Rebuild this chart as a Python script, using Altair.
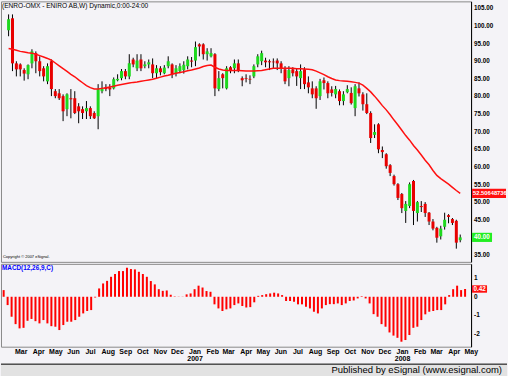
import altair as alt
import pandas as pd

# ---------------- data (weekly bars) ----------------
opens = [
    98.8, 102.2, 89.4, 89.1, 87.5, 86.3, 89.4, 92.3, 90.0, 88.0,
    84.3, 90.0, 81.5, 80.9, 80.1, 76.4, 79.5, 79.5, 77.2, 76.4,
    75.8, 76.7, 75.3, 74.4, 81.5, 82.6, 82.5, 82.3, 84.6, 85.2,
    87.2, 85.7, 90.5, 88.0, 90.5, 88.6, 89.1, 89.1, 86.6, 88.0,
    86.6, 88.6, 89.1, 86.6, 87.2, 87.5, 88.6, 90.2, 90.2, 94.8,
    94.8, 92.0, 91.4, 92.0, 82.1, 86.3, 82.3, 88.3, 88.0, 89.4,
    85.2, 85.2, 85.0, 85.7, 89.1, 90.0, 90.2, 90.0, 89.9, 90.2,
    89.4, 87.7, 85.2, 87.7, 87.2, 85.2, 87.7, 84.0, 82.3, 82.3,
    80.1, 84.6, 83.8, 82.0, 80.6, 81.5, 78.7, 81.2, 81.0, 76.7,
    82.3, 80.6, 77.8, 75.3, 69.1, 72.1, 64.8, 63.6, 60.5, 57.4,
    55.1, 52.3, 47.5, 48.9, 56.0, 46.9, 48.9, 49.5, 47.0, 44.5,
    42.7, 40.3, 43.0, 46.3, 45.2, 44.7, 39.2,
]
highs = [
    103.3, 103.3, 90.0, 89.4, 88.0, 89.1, 93.4, 92.8, 91.4, 88.6,
    89.4, 90.5, 82.1, 82.1, 80.6, 80.9, 82.1, 81.5, 78.1, 77.2,
    78.7, 77.2, 75.8, 83.5, 84.3, 83.5, 83.5, 85.4, 86.3, 87.8,
    87.8, 92.0, 91.0, 92.0, 92.0, 90.0, 90.5, 90.8, 88.9, 88.6,
    88.9, 91.4, 89.4, 88.9, 89.4, 90.0, 91.4, 91.2, 95.6, 95.1,
    95.1, 93.7, 93.7, 92.3, 87.2, 86.6, 88.6, 88.6, 90.5, 90.5,
    85.7, 86.3, 86.0, 89.1, 92.0, 93.0, 91.0, 90.5, 90.8, 90.8,
    90.0, 88.6, 88.6, 88.3, 87.8, 89.1, 88.3, 85.7, 84.3, 82.9,
    85.0, 85.4, 84.3, 82.9, 83.0, 82.0, 81.5, 83.2, 82.6, 83.5,
    84.0, 81.2, 80.9, 75.8, 72.1, 72.4, 65.8, 63.9, 60.8, 57.8,
    55.4, 52.6, 50.3, 55.6, 56.3, 50.3, 50.3, 50.0, 47.2, 45.2,
    43.0, 43.3, 47.0, 46.6, 45.5, 45.0, 40.8,
]
lows = [
    97.1, 87.2, 85.7, 85.7, 84.5, 84.9, 88.0, 86.6, 85.7, 84.3,
    83.5, 80.1, 79.5, 79.0, 73.0, 74.4, 73.8, 75.0, 72.4, 73.6,
    73.6, 73.6, 73.6, 70.7, 80.9, 81.5, 80.1, 82.0, 84.3, 84.6,
    84.9, 84.9, 88.3, 87.2, 87.2, 88.0, 88.0, 85.2, 85.2, 86.0,
    86.3, 88.0, 85.2, 85.7, 86.6, 86.5, 87.7, 88.3, 88.6, 91.4,
    90.5, 90.2, 91.1, 80.1, 81.5, 82.3, 82.0, 86.6, 86.6, 86.9,
    82.9, 84.0, 83.5, 85.2, 88.3, 88.9, 88.3, 87.5, 88.0, 87.5,
    86.6, 83.5, 82.9, 85.7, 83.0, 82.1, 82.1, 80.9, 79.5, 76.5,
    79.0, 82.0, 79.5, 80.0, 79.5, 77.5, 77.5, 80.9, 77.7, 74.4,
    80.0, 76.0, 75.0, 66.8, 68.2, 63.9, 62.5, 59.5, 57.4, 54.7,
    50.6, 46.9, 44.1, 48.3, 43.5, 44.5, 47.2, 45.8, 43.5, 42.0,
    38.5, 39.4, 42.2, 44.0, 43.5, 36.8, 38.6,
]
closes = [
    101.9, 89.4, 87.7, 87.7, 86.5, 88.9, 92.8, 90.0, 87.2, 85.7,
    88.6, 82.1, 80.1, 79.5, 75.8, 80.6, 79.2, 75.3, 75.8, 75.3,
    76.7, 74.4, 73.8, 82.1, 82.3, 82.1, 82.0, 84.9, 85.0, 87.2,
    85.7, 89.4, 89.1, 90.2, 88.0, 89.1, 89.7, 86.6, 88.0, 86.9,
    88.2, 90.0, 86.3, 88.0, 88.6, 89.0, 90.5, 89.9, 94.0, 94.2,
    92.0, 92.8, 92.3, 82.3, 85.2, 85.2, 88.0, 87.2, 89.4, 87.5,
    84.6, 85.0, 84.8, 88.6, 91.4, 92.3, 89.7, 89.7, 89.7, 89.4,
    88.0, 84.3, 87.5, 86.6, 85.7, 87.2, 83.5, 82.6, 80.6, 79.5,
    84.3, 83.8, 80.9, 81.0, 82.1, 78.7, 80.6, 82.1, 78.1, 82.9,
    80.9, 77.8, 75.3, 68.2, 69.9, 65.0, 64.2, 60.2, 58.3, 55.1,
    51.2, 48.3, 49.5, 55.1, 47.5, 50.0, 48.6, 46.9, 44.5, 42.5,
    39.9, 42.5, 45.0, 45.8, 44.1, 38.5, 40.0,
]
moving_avg = [
    93.6, 93.4, 93.1, 92.8, 92.6, 92.4, 92.3, 92.0, 91.6, 91.2,
    90.8, 90.3, 89.5, 88.7, 87.9, 87.1, 86.3, 85.6, 84.7, 83.9,
    83.1, 82.5, 82.1, 82.1, 82.3, 82.5, 82.7, 82.9, 83.2, 83.4,
    83.6, 83.8, 84.0, 84.1, 84.3, 84.5, 84.7, 84.9, 85.2, 85.5,
    85.8, 86.0, 86.3, 86.6, 86.8, 87.0, 87.3, 87.5, 87.8, 88.1,
    88.5, 88.8, 88.9, 88.3, 87.8, 87.5, 87.4, 87.4, 87.4, 87.4,
    87.3, 87.2, 87.2, 87.2, 87.3, 87.4, 87.6, 87.8, 88.0, 88.0,
    88.0, 88.0, 88.0, 88.0, 87.9, 87.9, 87.8, 87.7, 87.6, 87.2,
    86.7, 86.2, 85.6, 85.1, 84.7, 84.5, 84.4, 84.3, 84.2, 84.0,
    83.8, 83.2, 82.3, 81.3, 80.1, 78.8, 77.4, 76.2, 74.8, 73.3,
    71.9, 70.4, 68.9, 67.6, 66.1, 64.8, 63.4, 61.9, 60.6, 59.0,
    57.6, 56.7, 55.9, 55.1, 54.2, 53.3, 52.5,
]
macd_hist = [
    0.36, -0.45, -1.08, -1.48, -1.71, -1.68, -1.30, -1.20, -1.32, -1.44,
    -1.26, -1.44, -1.59, -1.62, -1.80, -1.53, -1.35, -1.35, -1.26, -1.08,
    -0.90, -0.77, -0.72, -0.04, 0.45, 0.72, 0.86, 1.08, 1.23, 1.39,
    1.39, 1.57, 1.50, 1.48, 1.35, 1.23, 1.08, 0.85, 0.67, 0.41,
    0.32, 0.34, 0.11, 0.02, 0.01, 0.01, 0.13, 0.18, 0.41, 0.60,
    0.50, 0.31, 0.27, -0.41, -0.63, -0.77, -0.68, -0.63, -0.45, -0.36,
    -0.50, -0.58, -0.56, -0.30, 0.05, 0.09, 0.14, 0.18, 0.22, 0.18,
    0.09, -0.23, -0.23, -0.27, -0.41, -0.41, -0.54, -0.63, -0.81, -0.90,
    -0.63, -0.45, -0.40, -0.40, -0.36, -0.45, -0.36, -0.23, -0.20, -0.09,
    0.03, -0.09, -0.36, -0.94, -1.08, -1.48, -1.62, -1.93, -2.10, -2.22,
    -2.43, -2.34, -2.07, -1.68, -1.62, -1.26, -0.95, -0.81, -0.77, -0.72,
    -0.72, -0.41, 0.09, 0.41, 0.60, 0.36, 0.42,
]
price_ticks = [35, 40, 45, 50, 55, 60, 65, 70, 75, 80, 85, 90, 95, 100, 105]
macd_ticks = [-2, -1, 0, 1]
ma_last_text = "52.50648736"
ma_last_value = 52.50648736
close_last_text = "40.00"
macd_last_text = "0.42"
title_text = "(ENRO-OMX - ENIRO AB,W) Dynamic,0:00-24:00"
copyright_text = "Copyright \u00a9 2007 eSignal."
macd_title = "MACD(12,26,9,C)"
publisher_text = "Published by eSignal (www.esignal.com)"

dates = pd.date_range("2006-01-30", periods=len(closes), freq="7D").strftime("%Y-%m-%dT00:00:00")
df = pd.DataFrame({
    "date": dates, "open": opens, "high": highs, "low": lows,
    "close": closes, "ma": moving_avg, "macd": macd_hist,
})
one = pd.DataFrame({"k": [0]})
price_lab = pd.DataFrame({"p": price_ticks, "t": [f"{p:.2f}" for p in price_ticks]})
macd_lab = pd.DataFrame({"p": macd_ticks, "t": [str(p) for p in macd_ticks]})

# ---------------- styling ----------------
BG = "#F4F3F7"
FONT = "Liberation Sans"
W = 471
H_MAIN = 261
H_MACD = 83
AX_X = 474  # label column just right of the plot frame

xscale = alt.Scale(domain=[
    alt.DateTime(year=2006, month=1, date=25, hours=8),
    alt.DateTime(year=2008, month=5, date=1, hours=13),
])
x_hidden = alt.X("date:T", scale=xscale, axis=None)

price_scale = alt.Scale(domain=[33.05, 107.0], nice=False, zero=False)
frame_axis = alt.Axis(orient="right", labels=False, ticks=False, grid=False,
                      domainColor="black", title=None)

base = alt.Chart(df)
wicks = base.mark_rule(color="black", strokeWidth=1).encode(
    x=x_hidden, y=alt.Y("low:Q", scale=price_scale, axis=frame_axis), y2="high:Q")
bodies = base.mark_bar(size=3).encode(
    x=x_hidden, y="open:Q", y2="close:Q",
    color=alt.condition("datum.close >= datum.open", alt.value("#1ED81E"), alt.value("#E80000")))
ma_line = base.mark_line(color="#FF1010", strokeWidth=1.5).encode(x=x_hidden, y="ma:Q")

price_labels = alt.Chart(price_lab).mark_text(
    align="left", baseline="middle", font=FONT, fontSize=6.3, fontWeight="bold", color="black"
).encode(x=alt.value(AX_X), y="p:Q", text="t:N")

ma_box_df = pd.DataFrame({"lo": [ma_last_value - 1.3], "hi": [ma_last_value + 1.3],
                          "v": [ma_last_value], "t": [ma_last_text]})
cl_box_df = pd.DataFrame({"lo": [closes[-1] - 1.3], "hi": [closes[-1] + 1.3],
                          "v": [closes[-1]], "t": [close_last_text]})
ma_box = alt.Chart(ma_box_df).mark_rect(color="#FF1010").encode(
    x=alt.value(472), x2=alt.value(506), y="lo:Q", y2="hi:Q")
ma_box_t = alt.Chart(ma_box_df).mark_text(align="left", baseline="middle", font=FONT,
                                          fontSize=5.8, fontWeight="bold", color="white").encode(
    x=alt.value(AX_X - 1), y="v:Q", text="t:N")
cl_box = alt.Chart(cl_box_df).mark_rect(color="#22EE22").encode(
    x=alt.value(472), x2=alt.value(492), y="lo:Q", y2="hi:Q")
cl_box_t = alt.Chart(cl_box_df).mark_text(align="left", baseline="middle", font=FONT,
                                          fontSize=6.3, fontWeight="bold", color="white").encode(
    x=alt.value(AX_X), y="v:Q", text="t:N")

title_t = alt.Chart(one).mark_text(align="left", baseline="middle", font=FONT, fontSize=6.6,
                                   color="black").encode(
    x=alt.value(1), y=alt.value(5), text=alt.value(title_text))
copy_t = alt.Chart(one).mark_text(align="left", baseline="middle", font=FONT, fontSize=4,
                                  color="black").encode(
    x=alt.value(2), y=alt.value(256), text=alt.value(copyright_text))

main = alt.layer(wicks, bodies, ma_line, price_labels, ma_box, ma_box_t, cl_box, cl_box_t,
                 title_t, copy_t).properties(width=W, height=H_MAIN)

# ---------------- MACD panel ----------------
label_expr = ("datum.value < datetime(2006, 1, 15) ? '' : "
              "(month(datum.value) == 0 ? [timeFormat(datum.value, '%b'), timeFormat(datum.value, '%Y')] "
              ": timeFormat(datum.value, '%b'))")
x_macd = alt.X("date:T", scale=xscale, axis=alt.Axis(
    orient="bottom", tickCount={"interval": "month", "step": 1}, labelExpr=label_expr,
    grid=False, ticks=False, domain=False, labelFont=FONT, labelFontSize=7,
    labelFontWeight="bold", labelColor="black", labelPadding=1, labelOverlap=False,
    labelFlush=False, labelLineHeight=7, labelBaseline="top", labelAlign="center", title=None))
macd_scale = alt.Scale(domain=[-2.70, 1.78], nice=False, zero=False)
hist = alt.Chart(df).mark_rule(color="#FF0000", strokeWidth=2).encode(
    x=x_macd, y=alt.Y("macd:Q", scale=macd_scale, axis=frame_axis), y2=alt.datum(0))
macd_labels = alt.Chart(macd_lab).mark_text(
    align="left", baseline="middle", font=FONT, fontSize=6.5, fontWeight="bold", color="black"
).encode(x=alt.value(AX_X), y="p:Q", text="t:N")
m_box_df = pd.DataFrame({"lo": [macd_hist[-1] - 0.2], "hi": [macd_hist[-1] + 0.2],
                         "v": [macd_hist[-1]], "t": [macd_last_text]})
m_box = alt.Chart(m_box_df).mark_rect(color="#FF1010").encode(
    x=alt.value(472), x2=alt.value(487), y="lo:Q", y2="hi:Q")
m_box_t = alt.Chart(m_box_df).mark_text(align="left", baseline="middle", font=FONT,
                                        fontSize=6.3, fontWeight="bold", color="white").encode(
    x=alt.value(AX_X - 0.5), y="v:Q", text="t:N")
macd_t = alt.Chart(one).mark_text(align="left", baseline="middle", font=FONT, fontSize=6.4,
                                  fontWeight="bold", color="#0000FF").encode(
    x=alt.value(1), y=alt.value(4), text=alt.value(macd_title))
macd = alt.layer(hist, macd_labels, m_box, m_box_t, macd_t).properties(width=W, height=H_MACD)

# ---------------- footer strip ----------------
strip_bg = alt.Chart(one).mark_rect(color="#E2E2E2").encode(
    x=alt.value(0), x2=alt.value(507), y=alt.value(0), y2=alt.value(13))
strip_line = alt.Chart(one).mark_rule(color="#000000", strokeWidth=1).encode(
    x=alt.value(0), x2=alt.value(507), y=alt.value(0.5))
strip_text = alt.Chart(one).mark_text(align="right", baseline="middle", font=FONT, fontSize=9.5,
                                      color="black").encode(
    x=alt.value(502), y=alt.value(6.5), text=alt.value(publisher_text))
strip = alt.layer(strip_bg, strip_line, strip_text).properties(
    width=507, height=13, view=alt.ViewBackground(stroke="transparent"))

chart = alt.vconcat(main, macd, strip, spacing=0).properties(
    padding=0, background=BG).configure_view(stroke="#8A8A8A", strokeWidth=1)

chart.save("out.html", embed_options={"renderer": "svg", "actions": False})
